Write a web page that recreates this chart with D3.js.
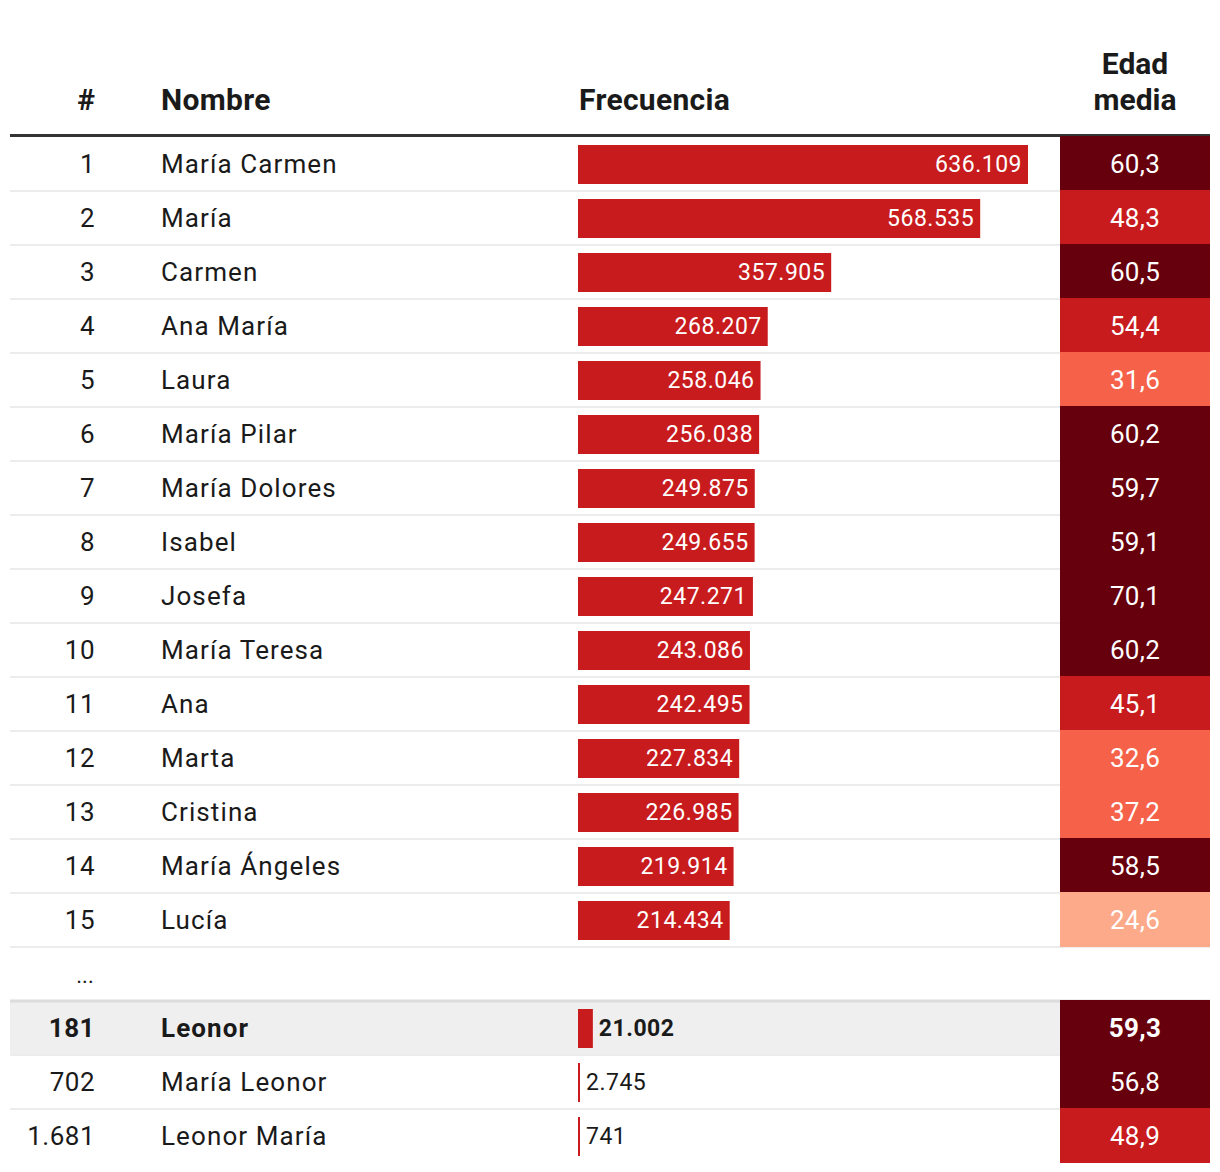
<!DOCTYPE html>
<html>
<head>
<meta charset="utf-8">
<script src="https://cdn.jsdelivr.net/npm/d3@7"></script>
<style>
  html, body { margin: 0; padding: 0; background: #fff; }
  svg { display: block; font-family: Roboto, "Noto Sans", sans-serif; }
</style>
</head>
<body>
<svg id="chart" width="1220" height="1172"></svg>
<script>
const ranks = ["1","2","3","4","5","6","7","8","9","10","11","12","13","14","15","181","702","1.681"];
const names = ["María Carmen","María","Carmen","Ana María","Laura","María Pilar","María Dolores","Isabel","Josefa","María Teresa","Ana","Marta","Cristina","María Ángeles","Lucía","Leonor","María Leonor","Leonor María"];
const frequencies = [636109,568535,357905,268207,258046,256038,249875,249655,247271,243086,242495,227834,226985,219914,214434,21002,2745,741];
const ages = [60.3,48.3,60.5,54.4,31.6,60.2,59.7,59.1,70.1,60.2,45.1,32.6,37.2,58.5,24.6,59.3,56.8,48.9];
const highlighted = [false,false,false,false,false,false,false,false,false,false,false,false,false,false,false,true,false,false];
const headers = ["#","Nombre","Frecuencia",["Edad","media"]];

const loc = d3.formatLocale({decimal: ",", thousands: ".", grouping: [3], currency: ["", "€"]});
const fmtInt = loc.format(",d");
const fmtAge = loc.format(".1f");

const svg = d3.select("#chart");
const leftX = 10, rightX = 1210;
const colRank = 95, colName = 161, colBar = 578, cellX = 1060, cellW = 150;
const rowH = 54, tableTop = 137;

const slotOf = i => i < 15 ? i : i + 1;
const y = d3.scaleBand().domain(d3.range(19)).range([tableTop, tableTop + 19 * rowH]).padding(0);
const x = d3.scaleLinear().domain([0, d3.max(frequencies)]).range([0, 450]);
const ageColor = d3.scaleThreshold().domain([30, 40, 55]).range(["#fcaa8a", "#f6614a", "#c81b1e", "#67000d"]);

const rows = ranks.map((r, i) => ({rank: r, name: names[i], freq: frequencies[i], age: ages[i], hl: highlighted[i], slot: slotOf(i)}));

// Header
const hg = svg.append("g").attr("fill", "#1a1a1a").attr("font-weight", 700).attr("font-size", 30);
hg.append("text").attr("x", colRank).attr("y", 110).attr("text-anchor", "end").text(headers[0]);
hg.append("text").attr("x", colName).attr("y", 110).attr("letter-spacing", 0.3).text(headers[1]);
hg.append("text").attr("x", colBar + 1).attr("y", 110).attr("letter-spacing", 0.3).text(headers[2]);
hg.append("text").attr("x", cellX + cellW / 2).attr("y", 74).attr("text-anchor", "middle").text(headers[3][0]);
hg.append("text").attr("x", cellX + cellW / 2).attr("y", 110).attr("text-anchor", "middle").text(headers[3][1]);

rows.filter(d => d.hl).forEach(d => {
  svg.append("rect").attr("x", leftX).attr("y", y(d.slot)).attr("width", cellX - leftX).attr("height", rowH).attr("fill", "#efefef");
});

const seps = svg.append("g");
rows.forEach(d => {
  if (d.slot === 18) return;
  seps.append("line").attr("x1", leftX).attr("x2", rightX)
    .attr("y1", y(d.slot) + rowH).attr("y2", y(d.slot) + rowH)
    .attr("stroke", "#ececec").attr("stroke-width", 2);
});
seps.append("line").attr("x1", leftX).attr("x2", rightX)
  .attr("y1", y(16)).attr("y2", y(16)).attr("stroke", "#dcdcdc").attr("stroke-width", 3);

svg.append("line").attr("x1", leftX).attr("x2", rightX).attr("y1", 135.5).attr("y2", 135.5)
  .attr("stroke", "#333").attr("stroke-width", 3);

const rg = svg.append("g").selectAll("g").data(rows).join("g")
  .attr("transform", d => `translate(0,${y(d.slot)})`);

rg.append("text").attr("x", colRank).attr("y", rowH / 2 + 9).attr("text-anchor", "end")
  .attr("font-size", 26).attr("fill", "#1a1a1a").attr("font-weight", d => d.hl ? 700 : 400)
  .attr("letter-spacing", 0.5)
  .text(d => d.rank);
rg.append("text").attr("x", colName).attr("y", rowH / 2 + 9)
  .attr("font-size", 26).attr("fill", "#1a1a1a").attr("font-weight", d => d.hl ? 700 : 400)
  .attr("letter-spacing", 1.1)
  .text(d => d.name);

rg.append("rect").attr("x", colBar).attr("y", 8).attr("height", 39)
  .attr("width", d => Math.max(2, x(d.freq))).attr("fill", "#c81b1e");

rg.append("text")
  .attr("x", d => x(d.freq) > 100 ? colBar + x(d.freq) - 6 : colBar + Math.max(2, x(d.freq)) + 6)
  .attr("y", rowH / 2 + 8)
  .attr("text-anchor", d => x(d.freq) > 100 ? "end" : "start")
  .attr("font-size", 23)
  .attr("letter-spacing", 0.5)
  .attr("font-weight", d => d.hl ? 700 : 400)
  .attr("fill", d => x(d.freq) > 100 ? "#fff" : "#1a1a1a")
  .text(d => fmtInt(d.freq));

rg.append("rect").attr("x", cellX).attr("y", -1).attr("width", cellW).attr("height", rowH + 1)
  .attr("fill", d => ageColor(d.age));
rg.append("text").attr("x", cellX + cellW / 2).attr("y", rowH / 2 + 9).attr("text-anchor", "middle")
  .attr("font-size", 26).attr("fill", "#fff").attr("font-weight", d => d.hl ? 700 : 400)
  .attr("letter-spacing", 0.3)
  .text(d => fmtAge(d.age));

svg.append("text").attr("x", 85).attr("y", y(15) + rowH / 2 + 9).attr("text-anchor", "middle")
  .attr("font-size", 22).attr("fill", "#1a1a1a").text("...");
</script>
</body>
</html>
